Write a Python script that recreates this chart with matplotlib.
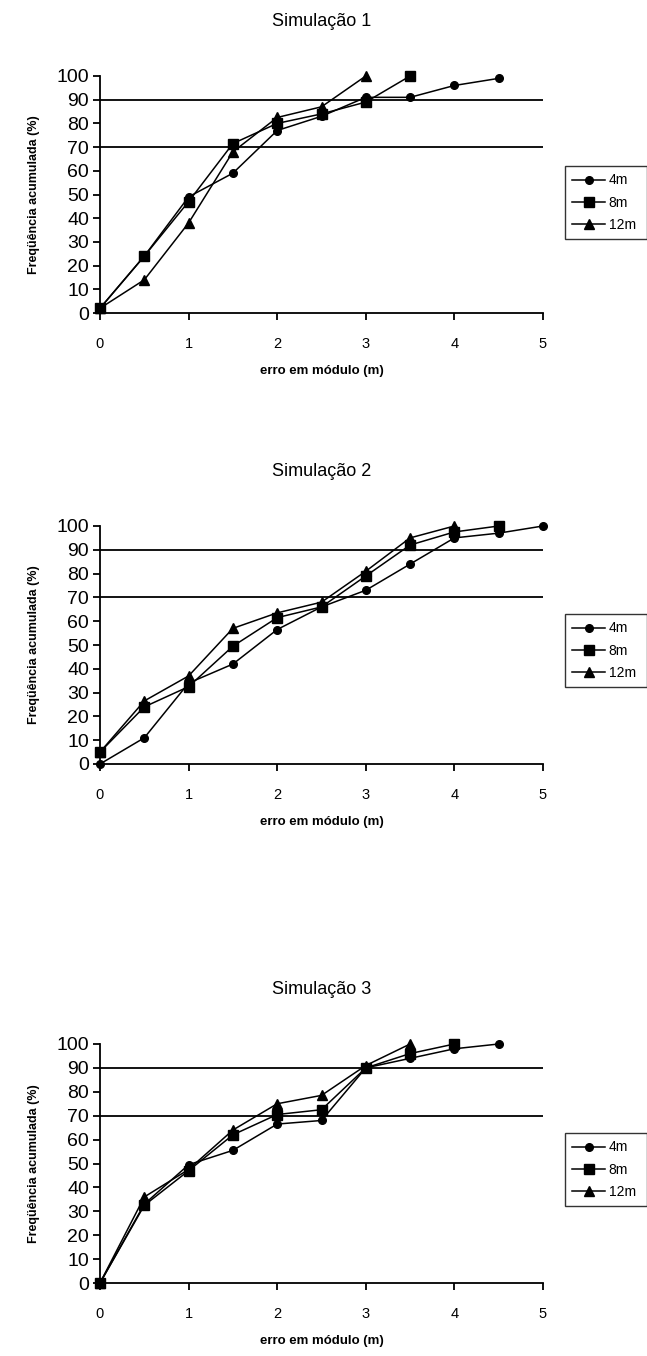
import matplotlib
matplotlib.use("Agg")

import matplotlib.pyplot as plt

plt.rcParams["font.family"] = ["Liberation Sans", "DejaVu Sans"]

# ---------- DATA ----------
X_VALUES = [0, 0.5, 1, 1.5, 2, 2.5, 3, 3.5, 4, 4.5, 5]
SERIES = ["4m", "8m", "12m"]
MARKERS = {"4m": "o", "8m": "s", "12m": "^"}
MSIZE = {"4m": 5.5, "8m": 6.5, "12m": 6.5}

sim1_4m = [2, 24, 49, 59, 77, 83, 91, 91, 96, 99]
sim1_8m = [2, 24, 47, 71.5, 80, 84, 89, 100]
sim1_12m = [2, 14, 38, 68, 82.5, 87, 100]

sim2_4m = [0, 11, 34, 42, 56.5, 66, 73, 84, 95, 97, 100]
sim2_8m = [5, 24, 32.5, 49.5, 61.5, 66, 79, 92, 97.5, 100]
sim2_12m = [5, 26.5, 37, 57, 63.5, 68, 81, 95, 100]

sim3_4m = [0, 33, 49.5, 55.5, 66.5, 68, 90, 94, 98, 100]
sim3_8m = [0, 32.5, 47, 62, 70.5, 72.5, 90, 96, 100]
sim3_12m = [0, 36, 47.5, 64, 75, 78.5, 91, 100]

TITLES = ["Simulação 1", "Simulação 2", "Simulação 3"]
SIMS = [
    {"4m": sim1_4m, "8m": sim1_8m, "12m": sim1_12m},
    {"4m": sim2_4m, "8m": sim2_8m, "12m": sim2_12m},
    {"4m": sim3_4m, "8m": sim3_8m, "12m": sim3_12m},
]
REF_LINES = [70, 90]

# ---------- LAYOUT (pixels of a 647x1356 figure) ----------
W, H = 647, 1356
AX_LEFT, AX_RIGHT = 100, 543
AX_TOPS = [76, 526, 1044]
AX_BOTTOMS = [313, 764, 1283]
LEG_BOX = [(565, 160, 647, 239), (565, 608, 647, 687), (565, 1127, 647, 1206)]

fig = plt.figure(figsize=(W / 100, H / 100), dpi=100)
fig.patch.set_facecolor("white")

for k in range(3):
    top, bot = AX_TOPS[k], AX_BOTTOMS[k]
    h = bot - top
    ax = fig.add_axes([AX_LEFT / W, 1 - bot / H, (AX_RIGHT - AX_LEFT) / W, h / H])
    for name in SERIES:
        ys = SIMS[k][name]
        ax.plot(X_VALUES[:len(ys)], ys, color="black", lw=1.1,
                marker=MARKERS[name], ms=MSIZE[name], mfc="black", mec="black",
                label=name, clip_on=False, zorder=3)
    for r in REF_LINES:
        ax.axhline(r, color="black", lw=1.3, zorder=2)

    ax.set_xlim(0, 5)
    ax.set_ylim(0, 100)
    ax.set_xticks(range(6))
    ax.set_yticks(range(0, 101, 10))
    for s in ["top", "right"]:
        ax.spines[s].set_visible(False)
    for s in ["left", "bottom"]:
        ax.spines[s].set_linewidth(1.3)
    ax.tick_params(axis="y", direction="out", length=5, width=1.3, labelsize=14, pad=3)
    ax.tick_params(axis="x", direction="out", length=5, width=1.3, labelsize=10.5, pad=12)

    ax.set_xlabel("erro em módulo (m)", fontsize=9.5, fontweight="bold")
    ax.xaxis.set_label_coords(0.5, -58 / h)
    ax.xaxis.label.set_va("center")
    ax.set_ylabel("Freqüência acumulada (%)", fontsize=9, fontweight="bold")
    ax.yaxis.set_label_coords(-66 / (AX_RIGHT - AX_LEFT), 0.5)
    ax.yaxis.label.set_va("center")
    ax.text(0.5, 1 + 54 / h, TITLES[k], transform=ax.transAxes,
            ha="center", va="center", fontsize=13)

    x0, y0, x1, y1 = LEG_BOX[k]
    leg = ax.legend(loc="lower left",
                    bbox_to_anchor=(x0 / W, 1 - y1 / H, (x1 - x0) / W, (y1 - y0) / H),
                    bbox_transform=fig.transFigure, mode="expand",
                    frameon=True, fancybox=False, edgecolor="black", fontsize=10,
                    handlelength=2.4, handletextpad=0.25, labelspacing=0.6,
                    borderaxespad=0, borderpad=0.5)
    leg.get_frame().set_linewidth(1.0)

fig.savefig("out.png", dpi=100, facecolor="white")
